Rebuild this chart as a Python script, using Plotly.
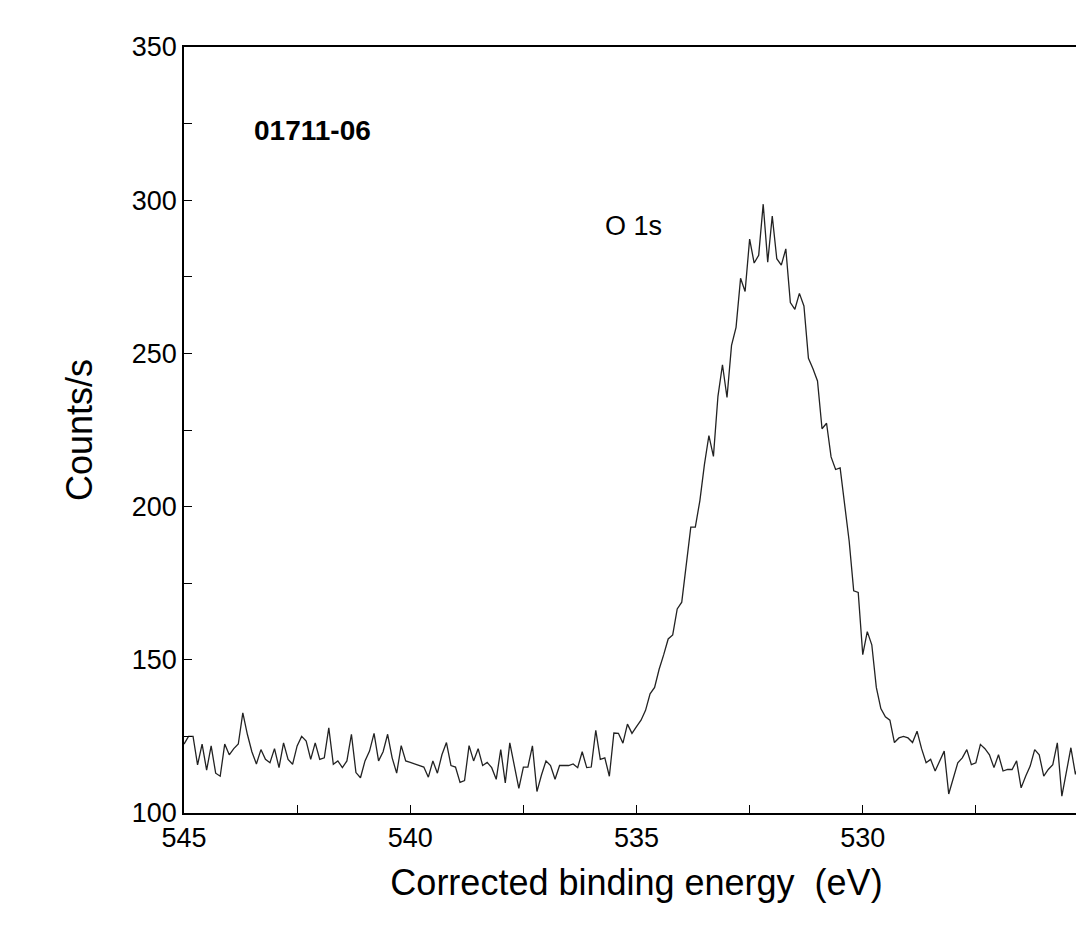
import plotly.graph_objects as go

baseline = [122.5,125,125,115.7,122.5,114,121.9,113,112,122.5,119,121,122.5,132.7,125.7,120,116,120.7,117.5,116.4,
            121,114.8,122.9,117.5,115.9,121.9,125,123.5,117.5,122.9,117.5,118,127.8,115.9,117,114.8,117,125.7,113.2,111.5,
            117,120.2,126,117,120,125.7,118,113,122,117,116.5,116,115.7,115,111.7,117,113,119,123,115.5,
            115,110,110.6,122,117,121,115.5,116.5,114.8,111,120.7,109.8,122.9,115.5,108,115,115,121.9,107,112.4,
            117,115.5,111,115.5,115.5,115.5,116,114.8,120,114.8,115,127,117.5,118,112]
peak = [126.1,126,122.8,129,126,128.2,130.3,133.5,138.9,141,146.9,151.6,156.8,158.1,166.6,168.8,181.6,193.3,193.3,201.9,
        213.6,223.2,216.4,236,246.3,235.6,252.6,258.5,274.5,270.2,287.3,279.5,282,298.7,279.8,294.8,280.9,278.8,284.1,266.6,
        264.4,269.6,265.5,248.4,245,241,225.4,227.2,216.2,212.1,212.6,201.5,188.7,172.5,172,151.7,159.2,154.9,141,134.1,
        131.4,130.3]
tail = [123,124.5,125,124.5,123,126.7,121,116.4,117.5,113.7,117,120.2,106.2,111,116.4,118,120.7,115.8,116.4,122.4,
        121,119,114.8,119,113.7,114.2,114.2,117,108.2,112,115.3,120.7,119,112,114.2,115.8,122.9,105.5,113,121.3,
        112.6,117,113.7,113.7]
counts = baseline + peak + tail
energy = [round(545 - 0.1 * i, 1) for i in range(len(counts))]

x_ticks = [545, 542.5, 540, 537.5, 535, 532.5, 530, 527.5, 525]
x_labels = ["545", "", "540", "", "535", "", "530", "", "525"]
y_ticks = [100, 125, 150, 175, 200, 225, 250, 275, 300, 325, 350]
y_labels = ["100", "", "150", "", "200", "", "250", "", "300", "", "350"]

fig = go.Figure(go.Scatter(x=energy, y=counts, mode="lines",
                           line=dict(color="#222222", width=1.3), showlegend=False))

font = "Liberation Sans, Arial, sans-serif"
fig.update_layout(
    width=1084, height=947,
    margin=dict(l=176, r=1, t=39, b=142),
    paper_bgcolor="white", plot_bgcolor="white",
    font=dict(family=font, color="black", size=27),
    xaxis=dict(range=[545, 525], tickvals=x_ticks, ticktext=x_labels, ticks="inside",
               ticklen=8, tickcolor="black", showline=True, linecolor="black", linewidth=1.5,
               mirror=True, showgrid=False, zeroline=False, tickfont=dict(size=27),
               title=dict(text="Corrected binding energy  (eV)", font=dict(size=36), standoff=18)),
    yaxis=dict(range=[100, 350], tickvals=y_ticks, ticktext=y_labels, ticks="inside",
               ticklen=8, tickcolor="black", showline=True, linecolor="black", linewidth=1.5,
               mirror=True, showgrid=False, zeroline=False, tickfont=dict(size=27),
               title=dict(text="Counts/s", font=dict(size=36), standoff=28)),
    annotations=[
        dict(x=543.5, y=322.6, text="<b>01711-06</b>", showarrow=False, xanchor="left",
             font=dict(size=28)),
        dict(x=535.75, y=291.6, text="O 1s", showarrow=False, xanchor="left", font=dict(size=27)),
    ],
)
fig.write_html("out.html")
